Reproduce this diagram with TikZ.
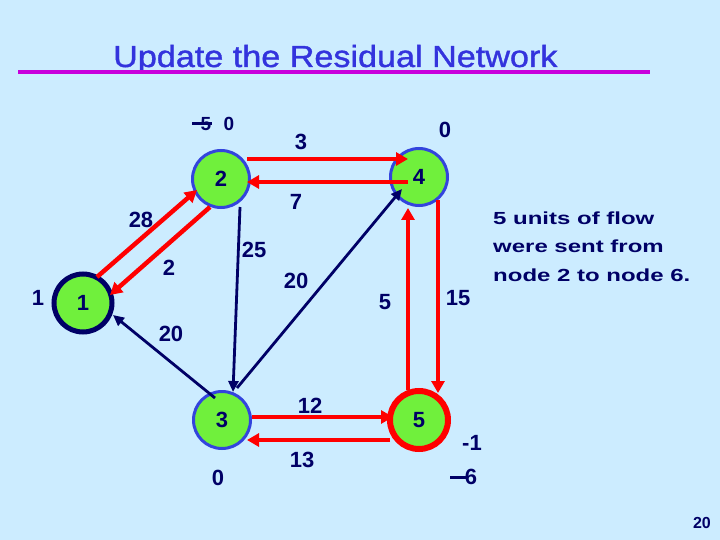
\documentclass[tikz,border=0pt]{standalone}
\usepackage{fontspec}
\setmainfont{Liberation Sans}
\newfontfamily\titlefont[FakeStretch=1.12,FakeBold=1.2]{Liberation Sans}
\newfontfamily\notefont[FakeStretch=1.37]{Liberation Sans}
\usetikzlibrary{arrows.meta}

\definecolor{slidebg}{RGB}{204,236,255}
\definecolor{navy}{RGB}{0,0,102}
\definecolor{titleblue}{RGB}{51,51,221}
\definecolor{rulemag}{RGB}{200,0,220}
\definecolor{nodegreen}{RGB}{112,240,60}
\definecolor{rimblue}{RGB}{51,68,221}

\begin{document}
\begin{tikzpicture}[
				x=1pt, y=-1pt,
				line cap=butt,
				line join=miter,
				vertex/.style={circle, fill=nodegreen, draw=rimblue, line width=3pt,
					minimum size=57pt, inner sep=0pt, text=navy,
					font=\bfseries\fontsize{22}{22}\selectfont},
				source/.style={vertex, draw=navy, line width=5pt, minimum size=58pt},
				sink/.style={vertex, draw=red, line width=6pt, minimum size=58pt},
				flow/.style={draw=red, line width=4.5pt, -{Triangle[length=12pt,width=13pt]}},
				resid/.style={draw=navy, line width=2.8pt, -{Triangle[length=11pt,width=10pt]}},
				num/.style={text=navy, inner sep=0pt, font=\bfseries\fontsize{22}{22}\selectfont},
				small/.style={num, font=\bfseries\fontsize{19}{19}\selectfont},
				strike/.style={draw=navy, line width=3pt}
				]
				% Slide
				\fill[slidebg] (0,0) rectangle (720,540);
				\useasboundingbox (0,0) rectangle (720,540);
				\node[anchor=base west, inner sep=0pt, text=titleblue,
					font=\titlefont\fontsize{30.5}{30.5}\selectfont] (head) at (113,67)
					{Update the Residual Network};
				\draw[rulemag, line width=4pt] (18,72.5) -- (650,72.5);
				
				% Vertices
				\node[source] (n1) at (83,303) {1};
				\node[vertex] (n2) at (221,179) {2};
				\node[vertex] (n3) at (222,420) {3};
				\node[vertex] (n4) at (419,177) {4};
				\node[sink]   (n5) at (419,420) {5};
				
				% Residual arcs
				\draw[resid] ([shift={(19,28)}]n2.center) -- ([shift={(11,-28)}]n3.center);
				\draw[resid] ([shift={(15,-32)}]n3.center) -- ([shift={(-17,12)}]n4.center);
				\draw[resid] ([shift={(-7,-22)}]n3.center) -- ([shift={(30,12)}]n1.center);
				
				% Arcs that carry the flow
				\draw[flow] ([shift={(14,-26)}]n1.center) -- ([shift={(-24,11)}]n2.center);
				\draw[flow] ([shift={(-11,28)}]n2.center) -- ([shift={(27,-8)}]n1.center);
				\draw[flow] ([shift={(26,-20)}]n2.center) -- ([shift={(-11,-18)}]n4.center);
				\draw[flow] ([shift={(-11,5)}]n4.center) -- ([shift={(26,3)}]n2.center);
				\draw[flow] ([shift={(19,23)}]n4.center) -- ([shift={(19,-27)}]n5.center);
				\draw[flow] ([shift={(-11,-30)}]n5.center) -- ([shift={(-11,31)}]n4.center);
				\draw[flow] ([shift={(30,-3)}]n3.center) -- ([shift={(-26,-3)}]n5.center);
				\draw[flow] ([shift={(-29,20)}]n5.center) -- ([shift={(25,20)}]n3.center);
				
				% Capacities
				\node[num] (c12) at (141,220) {28};
				\node[num] (c21) at (169,268) {2};
				\node[num] (c24) at (301,142) {3};
				\node[num] (c42) at (296,202) {7};
				\node[num] (c23) at (254,250) {25};
				\node[num] (c34) at (296,281) {20};
				\node[num] (c31) at (171,334) {20};
				\node[num] (c54) at (385,302) {5};
				\node[num] (c45) at (458,298) {15};
				\node[num] (c35) at (310,406) {12};
				\node[num] (c53) at (302,460) {13};
				
				% Supplies
				\node[num] (b1) at (38,298) {1};
				\node[small] (b2old) at (206,124) {5};
				\draw[strike] (192,123.5) -- (212,123.5);
				\node[small] (b2) at (229,124) {0};
				\node[num] (b4) at (445,130) {0};
				\node[num] (b3) at (218,478) {0};
				\node[num] (b5) at (472,443) {-1};
				\node[num] (b5old) at (471,477) {6};
				\draw[strike] (450,477) -- (467,477);
				
				% Note
				\node[anchor=base west, align=left, inner sep=0pt, text=navy,
					font=\notefont\bfseries\fontsize{17.5}{28.5}\selectfont] (note) at (493,281)
					{5 units of flow\\were sent from\\node 2 to node 6.};
				\node[anchor=base east, inner sep=0pt, text=navy,
					font=\bfseries\fontsize{16}{16}\selectfont] (page) at (711,528) {20};
			\end{tikzpicture}
\end{document}
